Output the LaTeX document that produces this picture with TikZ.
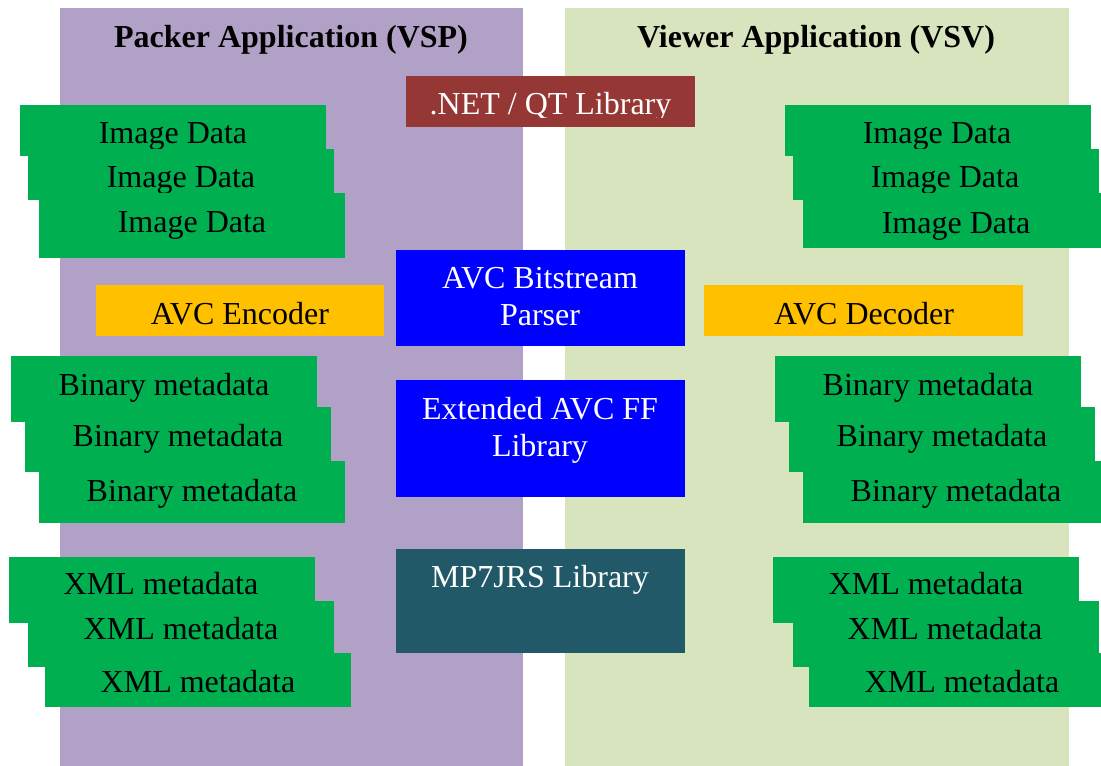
\documentclass[tikz,border=0pt]{standalone}
\usepackage{fontspec}
\setmainfont{Liberation Serif}
\definecolor{colP}{HTML}{B2A1C7}
\definecolor{colV}{HTML}{D7E4BD}
\definecolor{colG}{HTML}{00B050}
\definecolor{colO}{HTML}{FFC000}
\definecolor{colBr}{HTML}{953735}
\definecolor{colBl}{HTML}{0000FF}
\definecolor{colT}{HTML}{215968}
\begin{document}
\begin{tikzpicture}[x=1pt,y=-1pt,
  box/.style={anchor=north west,inner sep=0pt,outer sep=0pt,draw=none},
  txt/.style={anchor=base,inner sep=0pt,outer sep=0pt,font=\fontsize{32}{37}\selectfont},
  wtxt/.style={txt,text=white},
  ttl/.style={txt,font=\fontsize{32}{37}\selectfont\bfseries}]
\useasboundingbox (0,0) rectangle (1101,766);
% columns
\fill[colP] (60,8) rectangle (523,766);
\fill[colV] (565,8) rectangle (1069,766);
\node[ttl] (tP) at (291,47) {Packer Application (VSP)};
\node[ttl] (tV) at (816,47) {Viewer Application (VSV)};
% centre boxes
\node[box,fill=colBr,minimum width=289pt,minimum height=51pt] (net) at (406,76) {};
\begin{scope}
\clip (406,76) rectangle (695,117);
\node[wtxt] (nett) at (550.5,114) {.NET / QT Library};
\end{scope}
\node[box,fill=colBl,minimum width=289pt,minimum height=96pt] (bsp) at (396,250) {};
\node[wtxt] (bsp1) at (540,288) {AVC Bitstream};
\node[wtxt] (bsp2) at (540,325) {Parser};
\node[box,fill=colBl,minimum width=289pt,minimum height=117pt] (ff) at (396,380) {};
\node[wtxt] (ff1) at (540,419) {Extended AVC FF};
\node[wtxt] (ff2) at (540,456) {Library};
\node[box,fill=colT,minimum width=289pt,minimum height=104pt] (mp7) at (396,549) {};
\node[wtxt] (mp7t) at (540,587) {MP7JRS Library};
% encoder / decoder
\node[box,fill=colO,minimum width=288pt,minimum height=51pt] (enc) at (96,285) {};
\node[txt] (enct) at (240,324) {AVC Encoder};
\node[box,fill=colO,minimum width=319pt,minimum height=51pt] (dec) at (704,285) {};
\node[txt] (dect) at (864,324) {AVC Decoder};
% left image data
\node[box,fill=colG,minimum width=306pt,minimum height=51pt] (iL1) at (20,105) {};
\node[txt] (iL1t) at (173,143) {Image Data};
\node[box,fill=colG,minimum width=306pt,minimum height=51pt] (iL2) at (28,149) {};
\node[txt] (iL2t) at (181,187) {Image Data};
\node[box,fill=colG,minimum width=306pt,minimum height=65pt] (iL3) at (39,193) {};
\node[txt] (iL3t) at (192,232) {Image Data};
% right image data
\node[box,fill=colG,minimum width=306pt,minimum height=51pt] (iR1) at (785,105) {};
\node[txt] (iR1t) at (937,143) {Image Data};
\node[box,fill=colG,minimum width=306pt,minimum height=51pt] (iR2) at (793,149) {};
\node[txt] (iR2t) at (945,187) {Image Data};
\node[box,fill=colG,minimum width=306pt,minimum height=55pt] (iR3) at (803,193) {};
\node[txt] (iR3t) at (956,233) {Image Data};
% left binary
\node[box,fill=colG,minimum width=306pt,minimum height=66pt] (bL1) at (11,356) {};
\node[txt] (bL1t) at (164,395) {Binary metadata};
\node[box,fill=colG,minimum width=306pt,minimum height=65pt] (bL2) at (25,407) {};
\node[txt] (bL2t) at (178,446) {Binary metadata};
\node[box,fill=colG,minimum width=306pt,minimum height=62pt] (bL3) at (39,461) {};
\node[txt] (bL3t) at (192,501) {Binary metadata};
% right binary
\node[box,fill=colG,minimum width=306pt,minimum height=66pt] (bR1) at (775,356) {};
\node[txt] (bR1t) at (928,395) {Binary metadata};
\node[box,fill=colG,minimum width=306pt,minimum height=65pt] (bR2) at (789,407) {};
\node[txt] (bR2t) at (942,446) {Binary metadata};
\node[box,fill=colG,minimum width=306pt,minimum height=62pt] (bR3) at (803,461) {};
\node[txt] (bR3t) at (956,501) {Binary metadata};
% left xml
\node[box,fill=colG,minimum width=306pt,minimum height=66pt] (xL1) at (9,557) {};
\node[txt] (xL1t) at (161,594) {XML metadata};
\node[box,fill=colG,minimum width=306pt,minimum height=66pt] (xL2) at (28,601) {};
\node[txt] (xL2t) at (181,639) {XML metadata};
\node[box,fill=colG,minimum width=306pt,minimum height=54pt] (xL3) at (45,653) {};
\node[txt] (xL3t) at (198,692) {XML metadata};
% right xml
\node[box,fill=colG,minimum width=306pt,minimum height=66pt] (xR1) at (773,557) {};
\node[txt] (xR1t) at (926,594) {XML metadata};
\node[box,fill=colG,minimum width=306pt,minimum height=66pt] (xR2) at (793,601) {};
\node[txt] (xR2t) at (945,639) {XML metadata};
\node[box,fill=colG,minimum width=306pt,minimum height=54pt] (xR3) at (809,653) {};
\node[txt] (xR3t) at (962,692) {XML metadata};
\end{tikzpicture}
\end{document}
